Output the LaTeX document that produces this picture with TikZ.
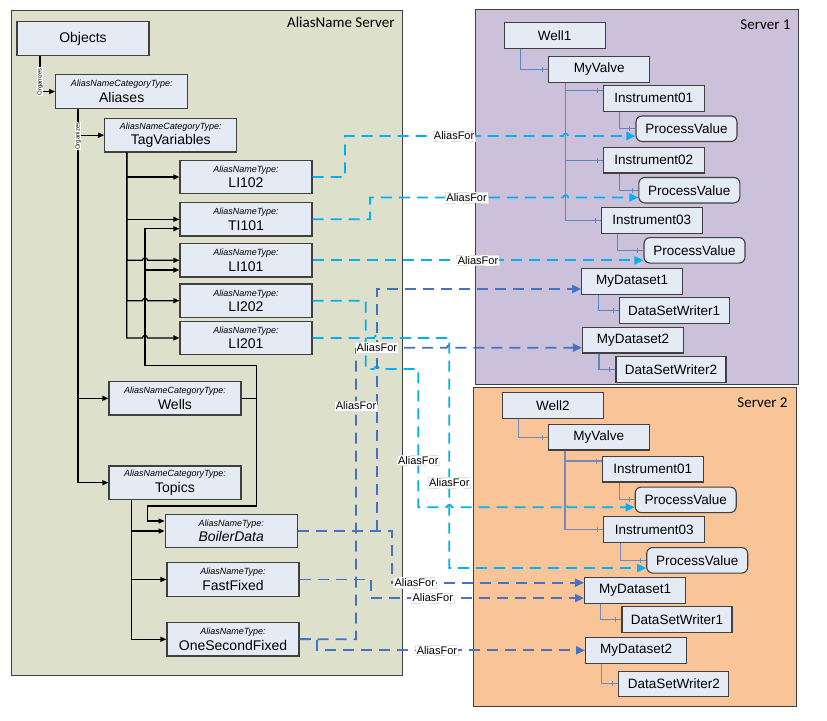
\documentclass[tikz,border=0pt]{standalone}
\usepackage{fontspec}
\setmainfont{Liberation Sans}
\newfontfamily\calib{Carlito}
\usetikzlibrary{arrows.meta,decorations.markings}
\definecolor{leftbg}{HTML}{DDE0CB}
\definecolor{sonebg}{HTML}{CCC1DA}
\definecolor{stwobg}{HTML}{F9C498}
\definecolor{nodefill}{HTML}{E4EBF5}
\definecolor{nodeborder}{HTML}{404040}
\definecolor{cyanline}{HTML}{00B0F0}
\definecolor{blueline}{HTML}{4472C4}
\definecolor{treeblue}{HTML}{5B87C7}
\definecolor{treegray}{HTML}{7489B8}
\newcommand\typelab[1]{{\fontsize{9}{10}\selectfont\itshape #1}}
\begin{document}
\begin{tikzpicture}[x=1pt,y=-1pt,
  panel/.style={draw=nodeborder, line width=1pt},
  paneltitle/.style={anchor=east, font=\calib\fontsize{15}{17}\selectfont},
  lnode/.style={draw=nodeborder, fill=nodefill, line width=1.2pt, minimum width=132pt, minimum height=33.5pt, inner sep=0pt, align=center, font=\fontsize{14}{15.5}\selectfont},
  rnode/.style={draw=nodeborder, fill=nodefill, line width=1.1pt, minimum width=101pt, minimum height=25.5pt, inner sep=0pt, font=\fontsize{13.5}{15}\selectfont},
  wnode/.style={rnode, minimum width=110pt},
  pvnode/.style={rnode, rounded corners=6pt},
  treeline/.style={draw=black, line width=1.2pt, -{Triangle[length=6pt,width=5pt]}},
  orglbl/.style={fill=white, inner sep=0.6pt, rotate=90, font=\fontsize{6}{6}\selectfont},
  srvline/.style={draw=#1, line width=1.1pt, postaction={decorate}, decoration={markings, mark=at position -5.5pt with {\draw[#1, line width=1pt] (0pt,-2.5pt) -- (0pt,2.5pt);}}},
  srvline/.default=treeblue,
  cyanarrow/.style={draw=cyanline, line width=1.7pt, dash pattern=on 11pt off 7pt, -{Triangle[length=9pt,width=8pt]}},
  bluearrow/.style={draw=blueline, line width=1.7pt, dash pattern=on 11pt off 7pt, -{Triangle[length=9pt,width=8pt]}},
  aliaslbl/.style={fill=white, draw=black!12, line width=0.4pt, inner sep=1.2pt, font=\fontsize{11}{12}\selectfont, text=black}
]
\useasboundingbox (0,0) rectangle (827,720);

% panels
\draw[panel, fill=leftbg] (11.5,10) rectangle (402.5,675);
\draw[panel, fill=sonebg] (475.5,9.5) rectangle (798.5,384);
\draw[panel, fill=stwobg] (473.5,387) rectangle (796.5,706.5);
\node[paneltitle] at (398,22) {AliasName Server};
\node[paneltitle] at (794,25) {Server 1};
\node[paneltitle] at (791,402.7) {Server 2};

% left nodes
\node[lnode] (objects) at (83,38.5) {Objects};
\node[lnode] (aliases) at (121.7,91.5) {\typelab{AliasNameCategoryType:}\\Aliases};
\node[lnode] (tagvars) at (170.8,135.2) {\typelab{AliasNameCategoryType:}\\TagVariables};
\node[lnode] (li102) at (246,177) {\typelab{AliasNameType:}\\LI102};
\node[lnode] (ti101) at (246,219.3) {\typelab{AliasNameType:}\\TI101};
\node[lnode] (li101) at (246,260.3) {\typelab{AliasNameType:}\\LI101};
\node[lnode] (li202) at (246,300.7) {\typelab{AliasNameType:}\\LI202};
\node[lnode] (li201) at (246,337.9) {\typelab{AliasNameType:}\\LI201};
\node[lnode] (wells) at (175,398.3) {\typelab{AliasNameCategoryType:}\\Wells};
\node[lnode] (topics) at (175,482.7) {\typelab{AliasNameCategoryType:}\\Topics};
\node[lnode] (boiler) at (231.2,531) {\typelab{AliasNameType:}\\\itshape BoilerData};
\node[lnode] (fast) at (233,579.5) {\typelab{AliasNameType:}\\FastFixed};
\node[lnode] (onesec) at (233,639.3) {\typelab{AliasNameType:}\\OneSecondFixed};

% server 1 nodes
\node[rnode] (well1) at (554.7,35.5) {Well1};
\node[rnode] (valve1) at (599.2,69.3) {MyValve};
\node[rnode] (inst11) at (653.8,98.3) {Instrument01};
\node[pvnode] (pv11) at (686.5,128.7) {ProcessValue};
\node[rnode] (inst12) at (653.8,160.2) {Instrument02};
\node[pvnode] (pv12) at (689.3,190.2) {ProcessValue};
\node[rnode] (inst13) at (651.7,220.3) {Instrument03};
\node[pvnode] (pv13) at (694.5,250.3) {ProcessValue};
\node[rnode] (ds11) at (632.2,281.3) {MyDataset1};
\node[wnode] (dsw11) at (674.2,310.3) {DataSetWriter1};
\node[rnode] (ds12) at (633,340.2) {MyDataset2};
\node[wnode] (dsw12) at (671,369.5) {DataSetWriter2};

% server 2 nodes
\node[rnode] (well2) at (552.8,405.5) {Well2};
\node[rnode] (valve2) at (598.7,437.2) {MyValve};
\node[rnode] (inst21) at (652.8,469.2) {Instrument01};
\node[pvnode] (pv21) at (685.7,499.8) {ProcessValue};
\node[rnode] (inst23) at (654.2,529.5) {Instrument03};
\node[pvnode] (pv23) at (697.2,560.3) {ProcessValue};
\node[rnode] (ds21) at (635.1,590.5) {MyDataset1};
\node[wnode] (dsw21) at (677,619.5) {DataSetWriter1};
\node[rnode] (ds22) at (636.1,650.3) {MyDataset2};
\node[wnode] (dsw22) at (673.8,683.8) {DataSetWriter2};

% left tree
\coordinate (obx) at ([xshift=-43pt]objects.south);
\coordinate (alx) at ([xshift=-43.7pt]aliases.south);
\coordinate (tvx) at ([xshift=-44.1pt]tagvars.south);
\coordinate (tpx) at ([xshift=-43.7pt]topics.south);
\coordinate (wj) at (256.7,398.3);
\draw[treeline] (obx) |- (aliases.west);
\draw[treeline] (alx) |- (tagvars.west);
\draw[treeline] (alx) |- (wells.west);
\draw[treeline] (alx) |- (topics.west);
\node[orglbl] at (40,81.7) {Organizes};
\node[orglbl] at (78,136) {Organizes};
\draw[treeline] (tvx) |- (li102.west);
\draw[treeline] (tvx) |- (ti101.west);
\draw[treeline] (tvx) |- (142.5,260.3) arc[start angle=180,end angle=360,radius=2.5] -- (li101.west);
\draw[treeline] (tvx) |- (142.5,300.7) arc[start angle=180,end angle=360,radius=2.5] -- (li202.west);
\draw[treeline] (tvx) |- (142.5,337.9) arc[start angle=180,end angle=360,radius=2.5] -- (li201.west);
\draw[treeline] (wells.east) -| (256.7,365.7) -| (145,228.7) -- ([yshift=-9.4pt]ti101.west);
\draw[treeline] (145,270) -- ([yshift=-9.7pt]li101.west);
\draw[treeline] (wj) |- (147.3,506) |- ([yshift=10pt]boiler.west);
\draw[treeline] (tpx) |- (boiler.west);
\draw[treeline] (tpx) |- (fast.west);
\draw[treeline] (tpx) |- (onesec.west);

% server trees
\draw[srvline] ([xshift=17pt]well1.south west) |- (valve1.west);
\draw[srvline] ([xshift=17pt]valve1.south west) |- ([yshift=7.6pt]inst11.west);
\draw[srvline] ([xshift=17pt]valve1.south west) |- (inst12.west);
\draw[srvline] ([xshift=17pt]valve1.south west) |- (inst13.west);
\draw[srvline] ([xshift=16.7pt]inst11.south west) |- (pv11.west);
\draw[srvline] ([xshift=16.7pt]inst12.south west) |- (pv12.west);
\draw[srvline] ([xshift=16.7pt]inst13.south west) |- (pv13.west);
\draw[srvline] ([xshift=17pt]ds11.south west) |- (dsw11.west);
\draw[srvline] ([xshift=17pt]ds12.south west) |- (dsw12.west);
\draw[srvline=treegray] ([xshift=17pt]well2.south west) |- (valve2.west);
\draw[srvline=treegray] ([xshift=17.3pt]valve2.south west) |- ([yshift=8.2pt]inst21.west);
\draw[srvline=treegray] ([xshift=17.3pt]valve2.south west) |- (inst23.west);
\draw[srvline=treegray] ([xshift=17.4pt]inst21.south west) |- (pv21.west);
\draw[srvline=treegray] ([xshift=17pt]inst23.south west) |- (pv23.west);
\draw[srvline=treegray] ([xshift=16.7pt]ds21.south west) |- (dsw21.west);
\draw[srvline=treegray] ([xshift=16.5pt]ds22.south west) |- (dsw22.west);

% cyan alias links
\draw[cyanarrow] (li102.east) -| (345,136) -- node[aliaslbl]{AliasFor} (563.2,136) arc[start angle=180,end angle=360,radius=2.5] -- ([yshift=-7.3pt]pv11.west);
\draw[cyanarrow] (ti101.east) -| (370,197.5) -- node[aliaslbl]{AliasFor} (563.2,197.5) arc[start angle=180,end angle=360,radius=2.5] -- ([yshift=-7.3pt]pv12.west);
\draw[cyanarrow] (li101.east) -- node[aliaslbl]{AliasFor} (li101.east -| pv13.west);
\draw[cyanarrow] (li202.east) -| (365.7,369) -- (374.2,369) arc[start angle=180,end angle=360,radius=2.5] -- (418.3,369) -- node[aliaslbl,pos=0.66]{AliasFor} (418.3,507.3) -- (446.8,507.3) arc[start angle=180,end angle=360,radius=2.5] -- (562.8,507.3) arc[start angle=180,end angle=360,radius=2.5] -- ([yshift=-7.5pt]pv21.west);
\draw[cyanarrow] (li201.east) -- (374.2,337.9) arc[start angle=180,end angle=360,radius=2.5] -- (449.3,337.9) -- node[aliaslbl,pos=0.63]{AliasFor} (449.3,568) -- ([yshift=-7.7pt]pv23.west);

% blue alias links
\draw[bluearrow] (boiler.east) -- (391.7,531) |- node[aliaslbl,pos=0.56]{AliasFor} ([yshift=7.8pt]ds21.west);
\draw[bluearrow] (376.7,531) |- ([yshift=-7.7pt]ds11.west);
\draw[bluearrow] (fast.east) -| (371,598) -- node[aliaslbl,pos=0.29]{AliasFor} ([yshift=-7.5pt]ds21.west);
\draw[bluearrow] (onesec.east) -- (316.7,639.3) -- (316.7,650.3) -- node[aliaslbl,pos=0.448]{AliasFor} (ds22.west);
\draw[bluearrow] (onesec.east) -- (356,639.3) -- node[aliaslbl,pos=0.8]{AliasFor} (356,347.7) -- node[aliaslbl,pos=0.23]{AliasFor} (446.8,347.7) arc[start angle=180,end angle=360,radius=2.5] -- ([yshift=-7.5pt]ds12.west);
\end{tikzpicture}
\end{document}
